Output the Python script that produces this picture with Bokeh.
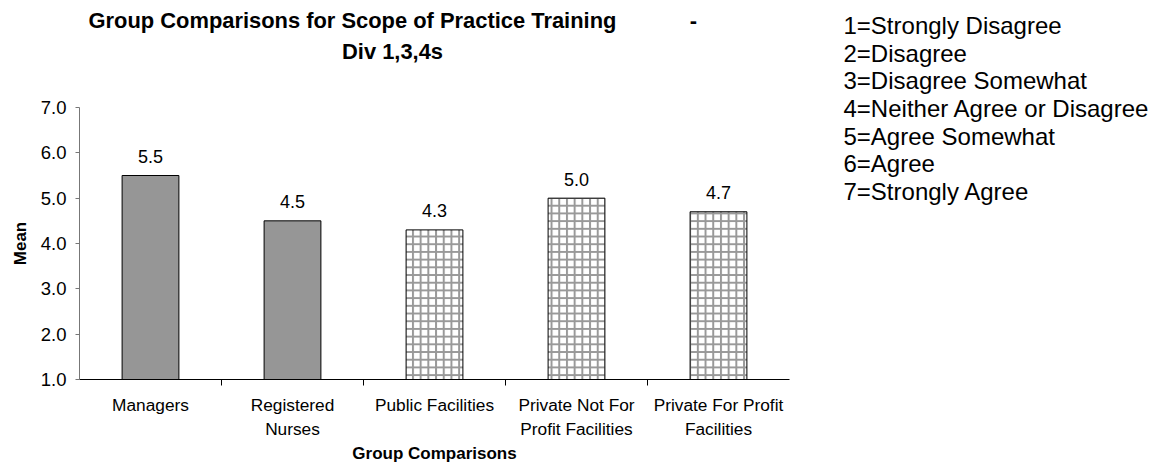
from bokeh.plotting import figure
from bokeh.models import Range1d, FixedTicker, NumeralTickFormatter
from bokeh.layouts import row, column
from bokeh.embed import file_html
from bokeh.resources import INLINE
from bokeh.core.properties import value
import numpy as np

# ---------------- data ----------------
title_line1 = "Group Comparisons for Scope of Practice Training"
title_dash = "-"
title_line2 = "Div 1,3,4s"
categories = ["Managers", "Registered\nNurses", "Public Facilities",
              "Private Not For\nProfit Facilities", "Private For Profit\nFacilities"]
group_kind = ["Staff", "Staff", "Facility", "Facility", "Facility"]
means = [5.5, 4.5, 4.3, 5.0, 4.7]
y_ticks = [1, 2, 3, 4, 5, 6, 7]
y_label = "Mean"
x_label = "Group Comparisons"
scale_key = ["1=Strongly Disagree", "2=Disagree", "3=Disagree Somewhat",
             "4=Neither Agree or Disagree", "5=Agree Somewhat", "6=Agree",
             "7=Strongly Agree"]

FONT = "Liberation Sans"

# layout (pixels)
LEFT_W = 832
TITLE_H = 70
TOTAL_H = 466
KEY_W = 324
FRAME_L, FRAME_R, FRAME_T, FRAME_B = 79, 789, 107, 379

# ---------------- title figure ----------------
tf = figure(width=LEFT_W, height=TITLE_H, x_range=Range1d(FRAME_L, FRAME_R),
            y_range=Range1d(TITLE_H, 0),
            output_backend="svg", toolbar_location=None,
            min_border_left=FRAME_L, min_border_right=LEFT_W - FRAME_R,
            min_border_top=0, min_border_bottom=0,
            x_axis_type=None, y_axis_type=None)
tf.outline_line_color = None
tf.grid.visible = False
tstyle = dict(text_font=value(FONT), text_font_size="21.9px", text_font_style="bold",
              text_baseline="middle", text_color="black")
tf.text(x=[88], y=[20], text=[title_line1], text_align="left", **tstyle)
tf.text(x=[693], y=[20], text=[title_dash], text_align="center", **tstyle)
tf.text(x=[392], y=[51], text=[title_line2], text_align="center", **tstyle)

# ---------------- chart figure ----------------
n = len(categories)
centers = list(np.arange(n) + 0.5)
chart_h = TOTAL_H - TITLE_H
p = figure(width=LEFT_W, height=chart_h, x_range=Range1d(0, n),
           y_range=Range1d(y_ticks[0], y_ticks[-1]),
           output_backend="svg", toolbar_location=None,
           min_border_left=FRAME_L, min_border_right=LEFT_W - FRAME_R,
           min_border_top=FRAME_T - TITLE_H, min_border_bottom=TOTAL_H - FRAME_B)
p.outline_line_color = None
p.grid.visible = False
p.background_fill_color = "white"

staff_x = [c for c, k in zip(centers, group_kind) if k == "Staff"]
staff_y = [m for m, k in zip(means, group_kind) if k == "Staff"]
fac_x = [c for c, k in zip(centers, group_kind) if k == "Facility"]
fac_y = [m for m, k in zip(means, group_kind) if k == "Facility"]

p.vbar(x=staff_x, top=staff_y, bottom=y_ticks[0], width=0.4,
       fill_color="#969696", line_color="black", line_width=1)
p.vbar(x=fac_x, top=fac_y, bottom=y_ticks[0], width=0.4,
       fill_color="white", hatch_pattern="+", hatch_color="#999999",
       hatch_scale=7.7, hatch_weight=2, line_color="black", line_width=1)

p.text(x=centers, y=means, text=[f"{m:.1f}" for m in means], text_font=value(FONT),
       text_font_size="18px", text_align="center", text_baseline="alphabetic",
       y_offset=-19, text_color="black")

xa = p.xaxis[0]
xa.ticker = FixedTicker(ticks=centers, minor_ticks=list(range(1, n)))
xa.major_label_overrides = {c: lab for c, lab in zip(centers, categories)}
xa.major_tick_out = 0
xa.major_tick_in = 0
xa.minor_tick_out = 6
xa.minor_tick_in = 0
xa.minor_tick_line_color = "black"
xa.axis_line_color = "black"
xa.major_label_standoff = 9
xa.major_label_text_font = FONT
xa.major_label_text_font_size = "17.3px"
xa.major_label_text_color = "black"
xa.axis_label = x_label
xa.axis_label_text_font = FONT
xa.axis_label_text_font_style = "bold"
xa.axis_label_text_font_size = "17px"
xa.axis_label_text_color = "black"
xa.axis_label_standoff = 2

ya = p.yaxis[0]
ya.ticker = FixedTicker(ticks=y_ticks)
ya.formatter = NumeralTickFormatter(format="0.0")
ya.major_tick_out = 4
ya.major_tick_in = 0
ya.minor_tick_out = 0
ya.minor_tick_in = 0
ya.axis_line_color = "#777777"
ya.major_tick_line_color = "#777777"
ya.major_label_standoff = 9
ya.major_label_text_font = FONT
ya.major_label_text_font_size = "18.5px"
ya.major_label_text_color = "black"
ya.axis_label = y_label
ya.axis_label_text_font = FONT
ya.axis_label_text_font_style = "bold"
ya.axis_label_text_font_size = "17px"
ya.axis_label_text_color = "black"
ya.axis_label_standoff = 8

# ---------------- scale key figure ----------------
lf = figure(width=KEY_W, height=TOTAL_H, x_range=Range1d(LEFT_W, LEFT_W + KEY_W),
            y_range=Range1d(TOTAL_H, 0),
            output_backend="svg", toolbar_location=None, min_border=0,
            x_axis_type=None, y_axis_type=None)
lf.outline_line_color = None
lf.grid.visible = False
key_top, key_step = 25, 27.67
lf.text(x=[843] * len(scale_key), y=[key_top + i * key_step for i in range(len(scale_key))],
        text=scale_key, text_font=value(FONT), text_font_size="24px",
        text_align="left", text_baseline="middle", text_color="black")

layout = row(column(tf, p), lf)
open("out.html", "w").write(file_html(layout, INLINE))
